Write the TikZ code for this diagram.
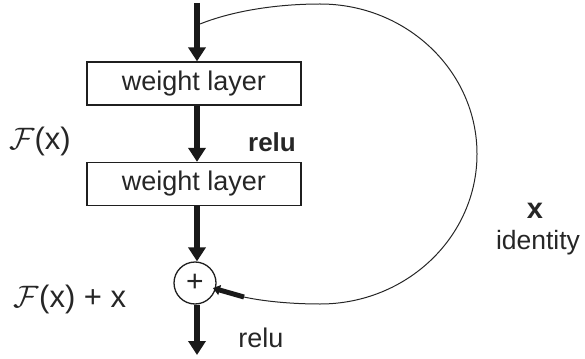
\RequirePackage{fix-cm}
\documentclass[tikz,border=0pt]{standalone}
\usepackage{fontspec}
\setmainfont{Liberation Sans}
\usetikzlibrary{arrows.meta}
\begin{document}
\begin{tikzpicture}[x=1pt,y=-1pt,
  ink/.style={draw=black!88},
  layerbox/.style={ink, line width=1.3pt, minimum width=214pt, minimum height=43pt, inner sep=0pt,
     font=\fontsize{27}{30}\selectfont, text=black!85},
  flow/.style={line width=6.5pt, black!90, -{Triangle[width=17pt,length=14pt]}},
  skiparrow/.style={line width=5pt, black!90, -{Triangle[width=10pt,length=7pt]}},
  lbl/.style={inner sep=0pt, text=black!85},
  bigF/.style={lbl, font=\fontsize{31}{34}\selectfont},
]
\useasboundingbox (0,0) rectangle (585,358);
\coordinate (in) at (197,3);
\coordinate (s) at (200,24);
\coordinate (c) at (244,297);
\coordinate (out) at (197,355);
\node[layerbox] (b1) at (194,83.5) {weight layer};
\node[layerbox] (b2) at (194,184) {weight layer};
\node[ink, circle, line width=1.3pt, minimum size=42pt, inner sep=0pt] (plus) at (195,283) {};
\node[lbl, font=\fontsize{30}{30}\selectfont] at (plus) {+};

\draw[flow] (in) -- (in |- b1.north);
\draw[flow] (in |- b1.south) -- (in |- b2.north);
\draw[flow] (in |- b2.south) -- (in |- plus.north);
\draw[flow] (in |- plus.south) -- (out);

\draw[line width=1pt, black!85] (s) .. controls (235,10) and (280,4) .. (320,4)
  .. controls (406.7,4) and (477,71.2) .. (477,154)
  .. controls (477,236.8) and (406.7,304) .. (320,304)
  .. controls (290,304) and (262,301) .. (c);
\draw[skiparrow, shorten >=-3pt] (c) -- (plus);

\node[bigF] (fx) at (40,141) {$\mathcal{F}$(x)};
\node[bigF] (fxx) at (70,299) {$\mathcal{F}$(x) + x};
\node[lbl, font=\bfseries\fontsize{26}{30}\selectfont] (r1) at (272,142) {relu};
\node[lbl, font=\fontsize{27}{30}\selectfont] (r2) at (261,338) {relu};
\node[lbl, font=\bfseries\fontsize{29}{30}\selectfont] (xl) at (535,211) {x};
\node[lbl, font=\fontsize{26.5}{30}\selectfont] (id) at (538,243) {identity};
\end{tikzpicture}
\end{document}
